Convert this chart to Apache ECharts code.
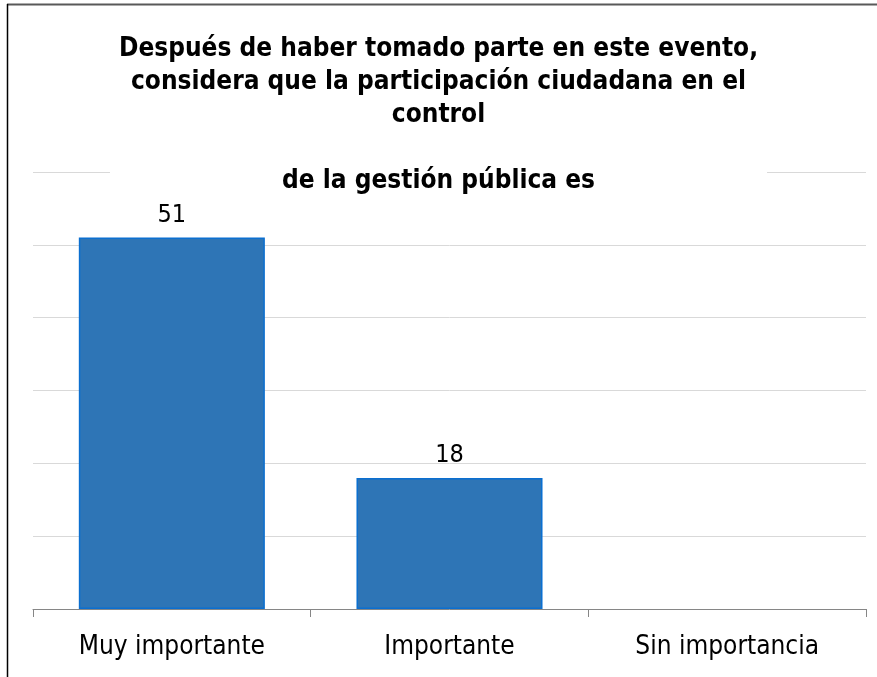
<!DOCTYPE html>
<html>
<head>
<meta charset="utf-8">
<script src="https://cdn.jsdelivr.net/npm/echarts@6/dist/echarts.min.js"></script>
<style>html,body{margin:0;padding:0;background:#fff}#c{width:877px;height:677px}</style>
</head>
<body>
<div id="c"></div>
<script>
const titleLines = ["Después de haber tomado parte en este evento,", "considera que la participación ciudadana en el", "control", "", "de la gestión pública es"];
const categories = ["Muy importante", "Importante", "Sin importancia"];
const values = [51, 18, null];
const yMin = 0, yMax = 60, yInterval = 10;

const chart = echarts.init(document.getElementById('c'), null, {renderer: 'canvas'});
chart.setOption({
  animation: false,
  backgroundColor: '#fff',
  title: {
    text: titleLines.join('\n'),
    left: 'center',
    top: 27,
    padding: [6, 9, 0, 9],
    backgroundColor: '#fff',
    textStyle: {fontFamily: 'DejaVu Sans Condensed', fontWeight: 'bold', fontSize: 26, lineHeight: 33, color: '#000'}
  },
  grid: {left: 33, right: 11, top: 172, bottom: 68},
  xAxis: {
    type: 'category',
    data: categories,
    axisLine: {lineStyle: {color: '#868686', width: 1}},
    axisTick: {show: true, length: 8, lineStyle: {color: '#868686'}},
    axisLabel: {fontFamily: 'DejaVu Sans Condensed', fontSize: 26, color: '#000', margin: 25}
  },
  yAxis: {
    type: 'value', min: yMin, max: yMax, interval: yInterval,
    axisLine: {show: false}, axisTick: {show: false}, axisLabel: {show: false},
    splitLine: {lineStyle: {color: '#d9d9d9', width: 1}}
  },
  series: [{
    type: 'bar',
    data: values,
    barWidth: '67%',
    itemStyle: {color: '#2E75B6', borderColor: '#0B6FD0', borderWidth: 1.5},
    label: {show: true, position: 'top', distance: 10, fontFamily: 'DejaVu Sans Condensed', fontSize: 25, color: '#000'}
  }],
  graphic: [
    {type: 'line', shape: {x1: 7, y1: 4.5, x2: 877, y2: 4.5}, style: {stroke: '#595959', lineWidth: 2}, z: 100},
    {type: 'line', shape: {x1: 7.5, y1: 4, x2: 7.5, y2: 677}, style: {stroke: '#000', lineWidth: 1.5}, z: 100}
  ]
});
</script>
</body>
</html>
